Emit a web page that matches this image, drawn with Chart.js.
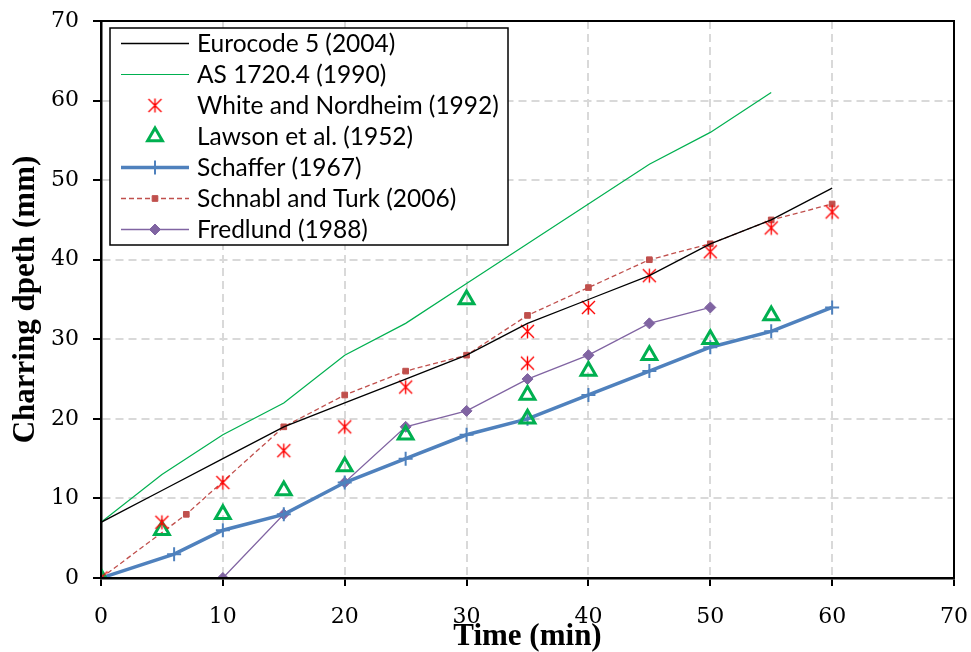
<!DOCTYPE html>
<html>
<head>
<meta charset="utf-8">
<script src="https://cdn.jsdelivr.net/npm/chart.js@4/dist/chart.umd.min.js"></script>
<style>
  html, body { margin: 0; padding: 0; background: #fff; }
  #wrap { width: 971px; height: 652px; }
</style>
</head>
<body>
<div id="wrap"><canvas id="graphic" width="971" height="652"></canvas></div>
<script>
  // values (time in min, depth in mm)
  const eurocodeTime = [0, 5, 10, 15, 20, 25, 30, 35, 40, 45, 50, 55, 60];
  const eurocodeDepth = [7, 11, 15, 19, 22, 25, 28, 32, 35, 38, 42, 45, 49];

  const asTime = [0, 5, 10, 15, 20, 25, 30, 35, 40, 45, 50, 55];
  const asDepth = [7, 13, 18, 22, 28, 32, 37, 42, 47, 52, 56, 61];

  const whiteTime = [0, 5, 10, 15, 20, 25, 35, 35, 40, 45, 50, 55, 60];
  const whiteDepth = [0, 7, 12, 16, 19, 24, 27, 31, 34, 38, 41, 44, 46];

  const lawsonTime = [0, 5, 10, 15, 20, 25, 30, 35, 35, 40, 45, 50, 55];
  const lawsonDepth = [0, 6, 8, 11, 14, 18, 35, 20, 23, 26, 28, 30, 33];

  const schafferTime = [0, 6, 10, 15, 20, 25, 30, 35, 40, 45, 50, 55, 60];
  const schafferDepth = [0, 3, 6, 8, 12, 15, 18, 20, 23, 26, 29, 31, 34];

  const schnablTime = [0, 7, 15, 20, 25, 30, 35, 40, 45, 50, 55, 60];
  const schnablDepth = [0, 8, 19, 23, 26, 28, 33, 36.5, 40, 42, 45, 47];

  const fredlundTime = [10, 15, 20, 25, 30, 35, 40, 45, 50];
  const fredlundDepth = [0, 8, 12, 19, 21, 25, 28, 32, 34];

  const xTicks = [0, 10, 20, 30, 40, 50, 60, 70];
  const yTicks = [0, 10, 20, 30, 40, 50, 60, 70];

  function pts(xs, ys) {
    let out = [];
    for (let i = 0; i < xs.length; i++) {
      out.push({ x: xs[i], y: ys[i] });
    }
    return out;
  }

  // excel style "star" marker : x with a vertical bar
  function starMarker() {
    const c = document.createElement("canvas");
    c.width = 17;
    c.height = 17;
    const g = c.getContext("2d");
    g.strokeStyle = "#ff0000";
    g.lineWidth = 1.4;
    g.beginPath();
    g.moveTo(2, 2); g.lineTo(15, 15);
    g.moveTo(15, 2); g.lineTo(2, 15);
    g.moveTo(8.5, 1.5); g.lineTo(8.5, 15.5);
    g.stroke();
    return c;
  }
  const star = starMarker();

  // legend drawn inside the plot, like the excel one
  const boxLegend = {
    id: "boxLegend",
    afterDraw(chart) {
      const ctx = chart.ctx;
      const left = 110, top = 28, w = 398, h = 217;
      ctx.save();
      ctx.fillStyle = "#fff";
      ctx.fillRect(left, top, w, h);
      ctx.strokeStyle = "#000";
      ctx.lineWidth = 1.5;
      ctx.strokeRect(left, top, w, h);
      chart.data.datasets.forEach(function (ds, i) {
        const y = 43.5 + i * 31;
        const cx = 155;
        if (ds.showLine) {
          ctx.strokeStyle = ds.borderColor;
          ctx.lineWidth = ds.borderWidth;
          ctx.setLineDash(ds.borderDash || []);
          ctx.beginPath();
          ctx.moveTo(121, y);
          ctx.lineTo(189, y);
          ctx.stroke();
          ctx.setLineDash([]);
        }
        if (ds.pointRadius > 0) {
          ctx.strokeStyle = ds.pointBorderColor || ds.borderColor;
          ctx.fillStyle = ds.backgroundColor;
          ctx.lineWidth = ds.pointBorderWidth;
          Chart.helpers.drawPoint(ctx, {
            pointStyle: ds.pointStyle,
            radius: ds.pointRadius,
            rotation: 0,
            borderWidth: ds.pointBorderWidth
          }, cx, y);
        }
        ctx.fillStyle = "#000";
        ctx.font = "24.5px Lato";
        ctx.textBaseline = "middle";
        ctx.fillText(ds.label, 197, y + 1);
      });
      ctx.restore();
    }
  };

  // black frame around the plot area
  const frame = {
    id: "frame",
    afterDatasetsDraw(chart) {
      const a = chart.chartArea;
      const ctx = chart.ctx;
      ctx.save();
      ctx.strokeStyle = "#000";
      ctx.lineWidth = 2;
      ctx.strokeRect(a.left, a.top, a.right - a.left, a.bottom - a.top);
      ctx.restore();
    }
  };

  var ctx = document.getElementById("graphic").getContext("2d");
  var chart = new Chart(ctx, {
    type: "scatter",
    data: {
      datasets: [
        {
          label: "Eurocode 5 (2004)",
          data: pts(eurocodeTime, eurocodeDepth),
          showLine: true,
          borderColor: "#000000",
          borderWidth: 1.3,
          pointRadius: 0,
        },
        {
          label: "AS 1720.4 (1990)",
          data: pts(asTime, asDepth),
          showLine: true,
          borderColor: "#00b050",
          borderWidth: 1.2,
          pointRadius: 0,
        },
        {
          label: "White and Nordheim (1992)",
          data: pts(whiteTime, whiteDepth),
          showLine: false,
          pointStyle: star,
          pointRadius: 8,
          pointBorderWidth: 1.4,
          borderColor: "#ff0000",
          backgroundColor: "#ff0000",
        },
        {
          label: "Lawson et al. (1952)",
          data: pts(lawsonTime, lawsonDepth),
          showLine: false,
          pointStyle: "triangle",
          pointRadius: 8.5,
          pointBorderWidth: 3,
          borderColor: "#00b050",
          backgroundColor: "rgba(0,0,0,0)",
        },
        {
          label: "Schaffer (1967)",
          data: pts(schafferTime, schafferDepth),
          showLine: true,
          borderColor: "#4f81bd",
          borderWidth: 3.5,
          pointStyle: "cross",
          pointRadius: 7,
          pointBorderWidth: 2,
          backgroundColor: "#4f81bd",
        },
        {
          label: "Schnabl and Turk (2006)",
          data: pts(schnablTime, schnablDepth),
          showLine: true,
          borderColor: "#c0504d",
          borderWidth: 1.3,
          borderDash: [5, 3],
          pointStyle: "rect",
          pointRadius: 4,
          pointBorderWidth: 1,
          backgroundColor: "#c0504d",
        },
        {
          label: "Fredlund (1988)",
          data: pts(fredlundTime, fredlundDepth),
          showLine: true,
          borderColor: "#8064a2",
          borderWidth: 1.3,
          pointStyle: "rectRot",
          pointRadius: 5.5,
          pointBorderWidth: 1,
          backgroundColor: "#8064a2",
        },
      ],
    },
    options: {
      responsive: false,
      animation: false,
      events: [],
      layout: { padding: { top: 21, right: 17, left: 0, bottom: 0 } },
      plugins: {
        legend: { display: false },
        tooltip: { enabled: false },
      },
      scales: {
        x: {
          type: "linear",
          min: 0,
          max: 70,
          afterFit(scale) {
            scale.height = 74;
            scale.paddingLeft = 0;
            scale.paddingRight = 0;
          },
          afterBuildTicks(scale) { scale.ticks = xTicks.map(v => ({ value: v })); },
          ticks: {
            color: "#000",
            padding: 18,
            font: { family: "DejaVu Serif", size: 22 },
          },
          grid: {
            color: "#d9d9d9",
            lineWidth: 2,
            tickColor: "#000",
            tickLength: 8,
            tickWidth: 2,
            tickBorderDash: [],
          },
          border: { color: "#000", width: 2.5, dash: [8, 5] },
          title: {
            display: true,
            text: "Time (min)",
            color: "#000",
            padding: 0,
            font: { family: "Liberation Serif", size: 31, weight: "bold", lineHeight: 1 },
          },
        },
        y: {
          type: "linear",
          min: 0,
          max: 70,
          afterFit(scale) {
            scale.width = 101;
            scale.paddingTop = 0;
            scale.paddingBottom = 0;
          },
          afterBuildTicks(scale) { scale.ticks = yTicks.map(v => ({ value: v })); },
          ticks: {
            color: "#000",
            padding: 14,
            font: { family: "DejaVu Serif", size: 22 },
          },
          grid: {
            color: "#d9d9d9",
            lineWidth: 2,
            tickColor: "#000",
            tickLength: 8,
            tickWidth: 2,
            tickBorderDash: [],
          },
          border: { color: "#000", width: 2.5, dash: [8, 5] },
          title: {
            display: true,
            text: "Charring dpeth (mm)",
            color: "#000",
            padding: { top: 10, bottom: 0 },
            font: { family: "Liberation Serif", size: 31, weight: "bold", lineHeight: 1 },
          },
        },
      },
    },
    plugins: [frame, boxLegend],
  });
</script>
</body>
</html>
